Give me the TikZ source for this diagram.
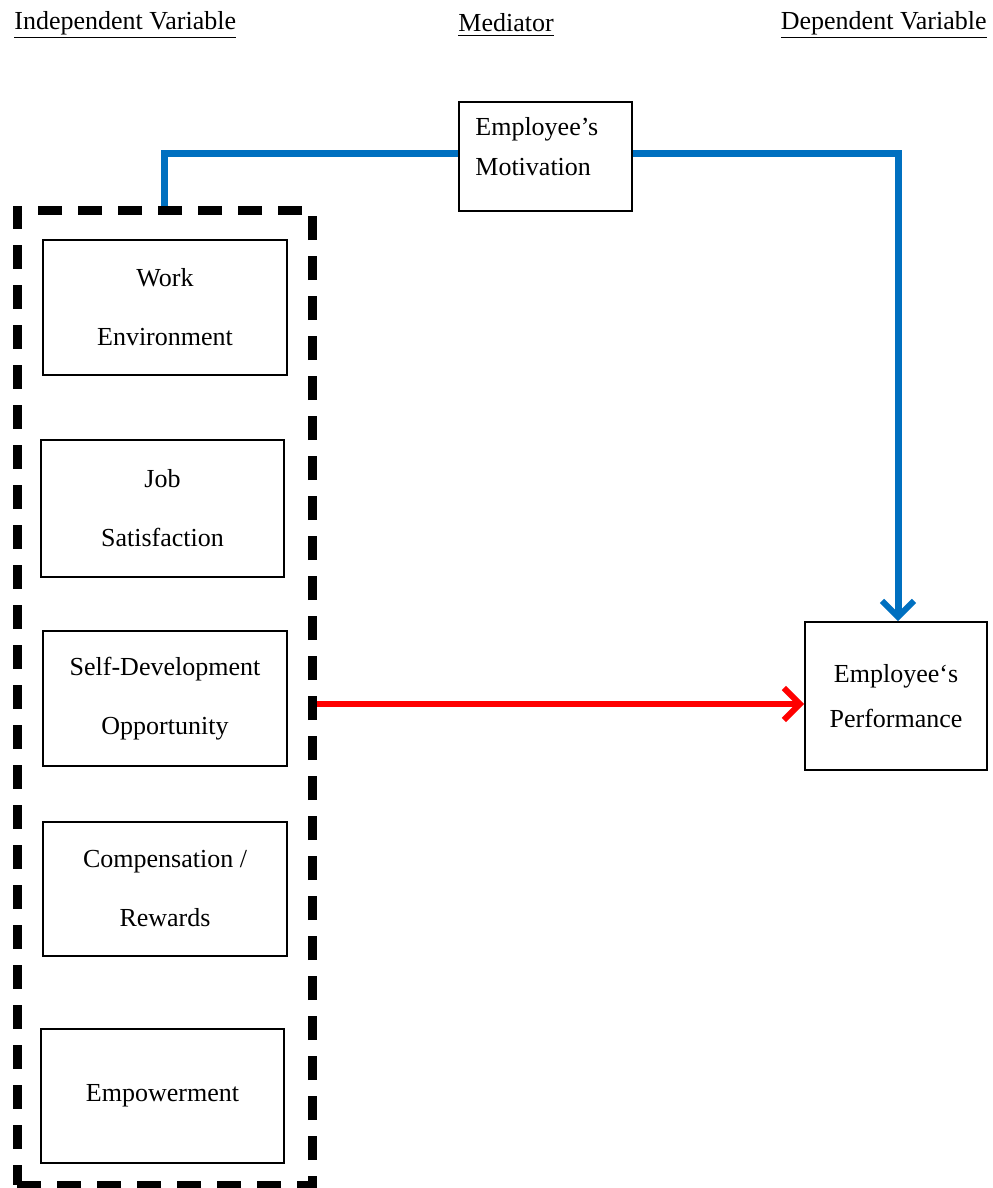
\documentclass[tikz,border=0pt]{standalone}
\usepackage{fontspec}
\setmainfont{Liberation Serif}
\usetikzlibrary{arrows.meta}
\definecolor{lineblue}{HTML}{0070C0}
\definecolor{linered}{HTML}{FF0000}
\begin{document}
\begin{tikzpicture}[x=0.5pt,y=-0.5pt,
  txt/.style={font=\fontsize{13}{29.5}\selectfont, align=center, inner sep=0pt},
  varbox/.style={draw=black, line width=0.8pt, txt},
  hdr/.style={font=\fontsize{13}{15}\selectfont, inner sep=0pt, anchor=west},
  dashbox/.style={draw=black, line width=4.5pt, dash pattern=on 12pt off 8pt, inner sep=0pt},
  barb/.style={-{Straight Barb[length=8pt,width=16pt,line width=3pt]}},
  blueline/.style={draw=lineblue, line width=3.5pt},
  redline/.style={draw=linered, line width=3pt}
]
\useasboundingbox (0,0) rectangle (992,1188);

% headers
\node[hdr] (hiv) at (14,25) {\underline{Independent Variable}};
\node[hdr] (hmed) at (458,25) {\underline{Mediator}};
\node[hdr, anchor=east] (hdv) at (987,25) {\underline{Dependent Variable}};

% dashed container
\node[dashbox, minimum width=147.5pt, minimum height=487.5pt] (ivbox) at (164.5,697.5) {};

% independent variable boxes
\node[varbox, minimum width=122pt, minimum height=67.5pt] (we) at (165,307.5) {Work\\Environment};
\node[varbox, minimum width=121.5pt, minimum height=68.5pt] (js) at (162.5,508.5) {Job\\Satisfaction};
\node[varbox, minimum width=122pt, minimum height=67.5pt] (sd) at (165,698.5) {Self-Development\\Opportunity};
\node[varbox, minimum width=122pt, minimum height=67pt] (cr) at (165,889) {Compensation /\\Rewards};
\node[varbox, minimum width=121.5pt, minimum height=67pt] (em) at (162.5,1096) {Empowerment};

% mediator
\node[draw=black, line width=0.8pt, minimum width=86.5pt, minimum height=54.5pt, inner sep=0pt] (med) at (545.5,156.5) {};
\node[txt, align=left, anchor=north west, font=\fontsize{13}{20}\selectfont] (medtxt) at (475,117) {Employee’s\\Motivation};

% dependent variable
\node[varbox, minimum width=91pt, minimum height=74pt, font=\fontsize{13}{22.5}\selectfont] (perf) at (896,696) {Employee\symbol{96}s\\Performance};

% connectors
\draw[blueline] (ivbox.north) |- ([yshift=1.75pt]med.west);
\draw[blueline, barb] ([yshift=1.75pt]med.east) -| ([xshift=1pt]perf.north);
\draw[redline, barb] (ivbox.east |- 0,704) -- (perf.west |- 0,704);
\end{tikzpicture}
\end{document}
